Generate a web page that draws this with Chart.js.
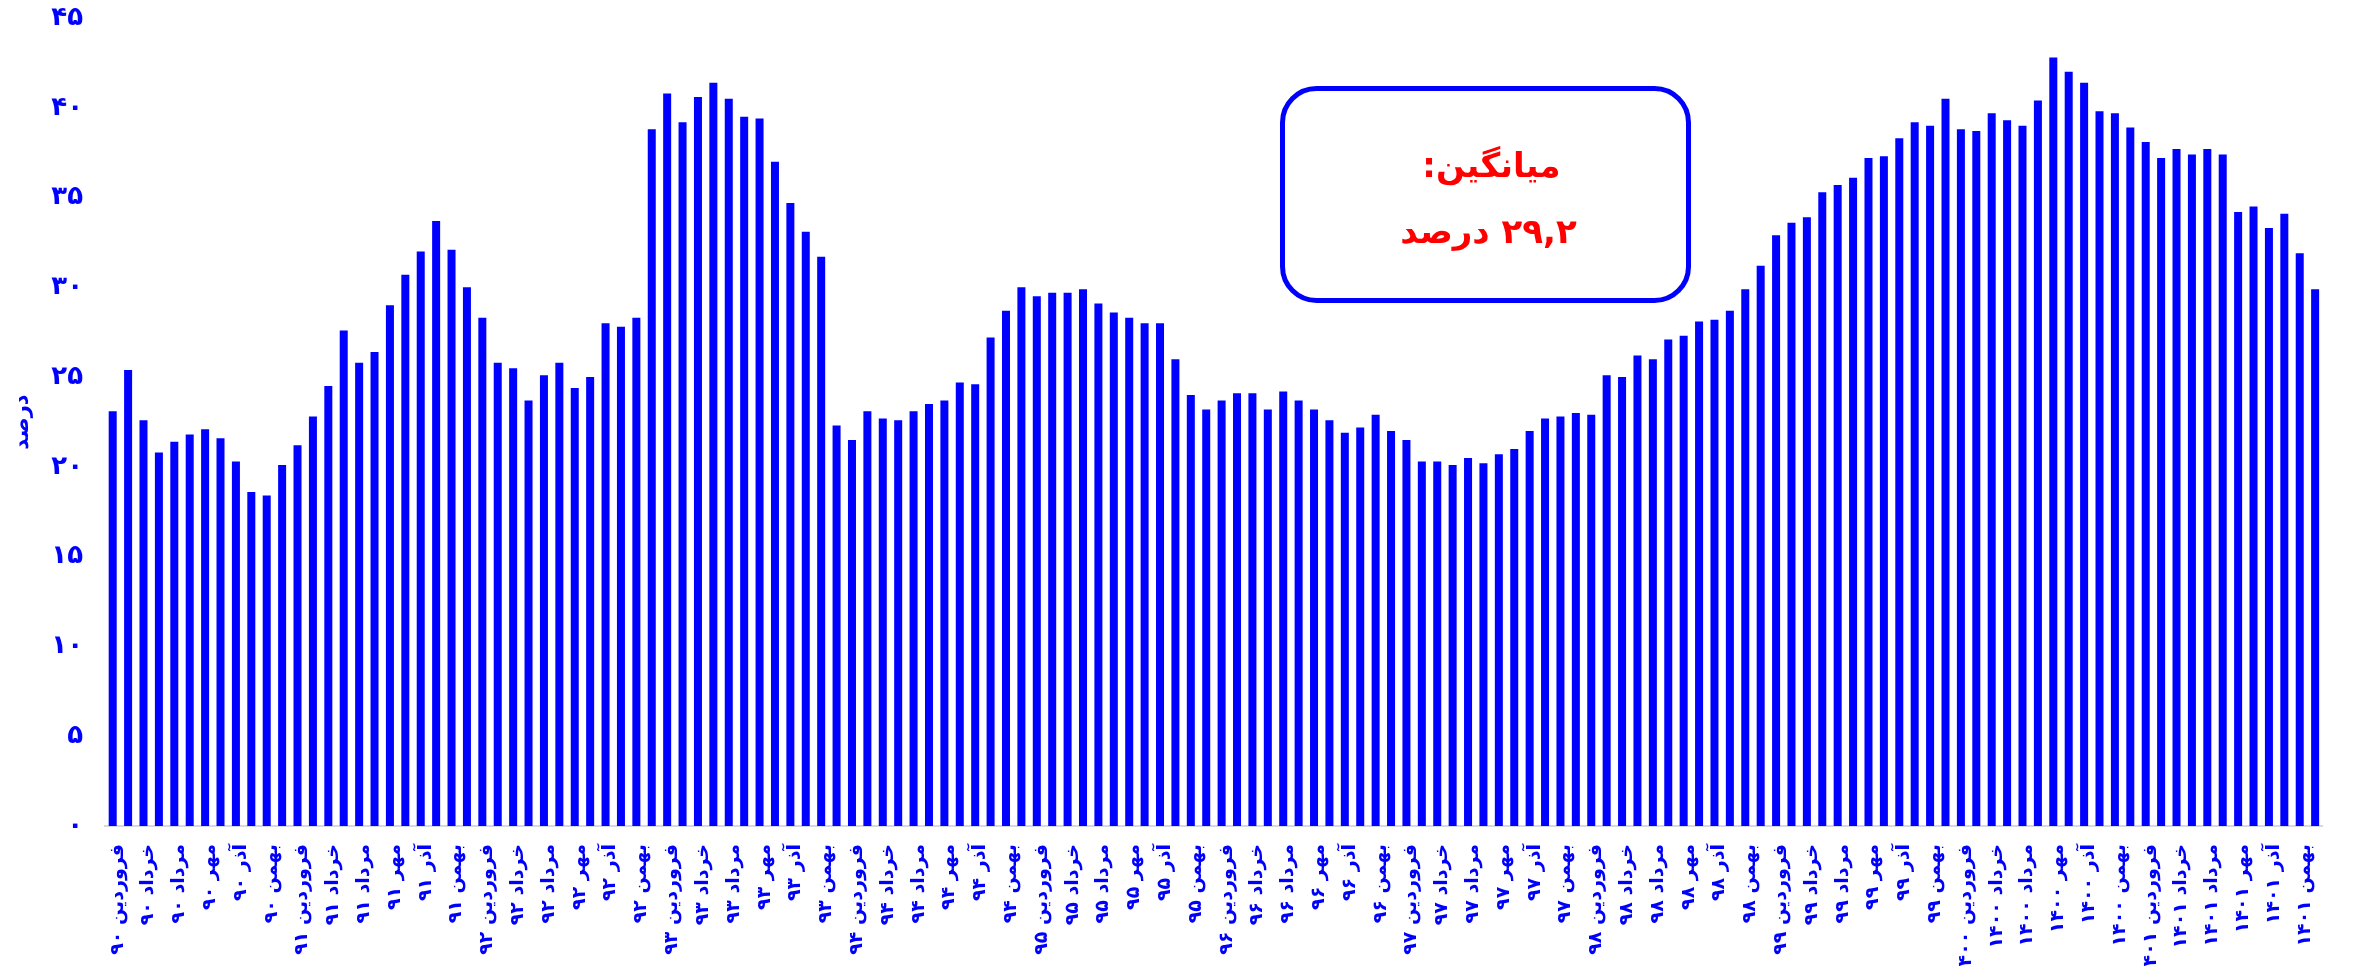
<!DOCTYPE html>
<html lang="fa">
<head>
<meta charset="utf-8">
<script src="https://cdn.jsdelivr.net/npm/chart.js@4.4.1/dist/chart.umd.min.js"></script>
<style>
  html, body { margin: 0; padding: 0; background: #fff; }
  #wrap { width: 2356px; height: 966px; position: relative; }
</style>
</head>
<body>
<div id="wrap"><canvas id="grafica"></canvas></div>
<script>
const months = ["فروردین", "اردیبهشت", "خرداد", "تیر", "مرداد", "شهریور", "مهر", "آبان", "آذر", "دی", "بهمن", "اسفند"];
const years = ["۹۰", "۹۱", "۹۲", "۹۳", "۹۴", "۹۵", "۹۶", "۹۷", "۹۸", "۹۹", "۱۴۰۰", "۱۴۰۱"];
const yTicks = [0, 5, 10, 15, 20, 25, 30, 35, 40, 45];

// percent, month by month
const v90 = [23.1, 25.4, 22.6, 20.8, 21.4, 21.8, 22.1, 21.6, 20.3, 18.6, 18.4, 20.1];
const v91 = [21.2, 22.8, 24.5, 27.6, 25.8, 26.4, 29.0, 30.7, 32.0, 33.7, 32.1, 30.0];
const v92 = [28.3, 25.8, 25.5, 23.7, 25.1, 25.8, 24.4, 25.0, 28.0, 27.8, 28.3, 38.8];
const v93 = [40.8, 39.2, 40.6, 41.4, 40.5, 39.5, 39.4, 37.0, 34.7, 33.1, 31.7, 22.3];
const v94 = [21.5, 23.1, 22.7, 22.6, 23.1, 23.5, 23.7, 24.7, 24.6, 27.2, 28.7, 30.0];
const v95 = [29.5, 29.7, 29.7, 29.9, 29.1, 28.6, 28.3, 28.0, 28.0, 26.0, 24.0, 23.2];
const v96 = [23.7, 24.1, 24.1, 23.2, 24.2, 23.7, 23.2, 22.6, 21.9, 22.2, 22.9, 22.0];
const v97 = [21.5, 20.3, 20.3, 20.1, 20.5, 20.2, 20.7, 21.0, 22.0, 22.7, 22.8, 23.0];
const v98 = [22.9, 25.1, 25.0, 26.2, 26.0, 27.1, 27.3, 28.1, 28.2, 28.7, 29.9, 31.2];
const v99 = [32.9, 33.6, 33.9, 35.3, 35.7, 36.1, 37.2, 37.3, 38.3, 39.2, 39.0, 40.5];
const v1400 = [38.8, 38.7, 39.7, 39.3, 39.0, 40.4, 42.8, 42.0, 41.4, 39.8, 39.7, 38.9];
const v1401 = [38.1, 37.2, 37.7, 37.4, 37.7, 37.4, 34.2, 34.5, 33.3, 34.1, 31.9, 29.9];

const avgTitle = "میانگین:";
const avgText = "۲۹,۲ درصد";

const labels = [];
years.forEach(y => months.forEach(m => labels.push(m + " " + y)));
const values = [].concat(v90, v91, v92, v93, v94, v95, v96, v97, v98, v99, v1400, v1401);

const toFa = n => String(n).replace(/\d/g, d => "۰۱۲۳۴۵۶۷۸۹"[d]);
const FONT = "'DejaVu Sans', sans-serif";
const BLUE = "#0000ff";

const avgBox = {
  id: "avgBox",
  afterDraw(chart) {
    const ctx = chart.ctx;
    const x = 1282.5, y = 88.5, w = 406, h = 212;
    ctx.save();
    ctx.fillStyle = "#fff";
    ctx.strokeStyle = BLUE;
    ctx.lineWidth = 5;
    ctx.beginPath();
    ctx.roundRect(x, y, w, h, 34);
    ctx.fill();
    ctx.stroke();
    ctx.fillStyle = "#ff0000";
    ctx.font = "bold 34px " + FONT;
    ctx.textAlign = "center";
    ctx.textBaseline = "middle";
    ctx.direction = "rtl";
    ctx.fillText(avgTitle, x + w / 2 + 6, 168);
    ctx.fillText(avgText, x + w / 2 + 3, 234);
    ctx.restore();
  }
};

new Chart(document.getElementById("grafica"), {
  type: "bar",
  data: {
    labels: labels,
    datasets: [{
      data: values,
      backgroundColor: BLUE,
      barPercentage: 0.52,
      categoryPercentage: 1
    }]
  },
  options: {
    responsive: true,
    maintainAspectRatio: false,
    animation: false,
    layout: { padding: { top: 18, right: 19, left: 0, bottom: 0 } },
    plugins: { legend: { display: false }, tooltip: { enabled: false } },
    scales: {
      x: {
        grid: { display: false, drawTicks: false },
        border: { display: true, color: "#d9d9d9", width: 2 },
        afterFit: s => { s.height = 140; },
        ticks: {
          autoSkip: false,
          minRotation: 90,
          maxRotation: 90,
          padding: 18,
          labelOffset: 5,
          color: BLUE,
          font: { family: FONT, size: 19, weight: "bold" },
          callback: function (value, index) {
            return index % 2 === 0 ? this.getLabelForValue(value) : "";
          }
        }
      },
      y: {
        min: 0,
        max: 45,
        grid: { display: false, drawTicks: false },
        border: { display: false },
        afterFit: s => { s.width = 105; s.paddingTop = 0; s.paddingBottom = 0; },
        afterBuildTicks: s => { s.ticks = yTicks.map(v => ({ value: v })); },
        title: {
          display: true,
          text: "درصد",
          color: BLUE,
          font: { family: FONT, size: 21, weight: "bold" },
          padding: { top: 10, bottom: 0 }
        },
        ticks: {
          padding: 22,
          color: BLUE,
          font: { family: FONT, size: 26, weight: "bold" },
          callback: v => toFa(v)
        }
      }
    }
  },
  plugins: [avgBox]
});
</script>
</body>
</html>
